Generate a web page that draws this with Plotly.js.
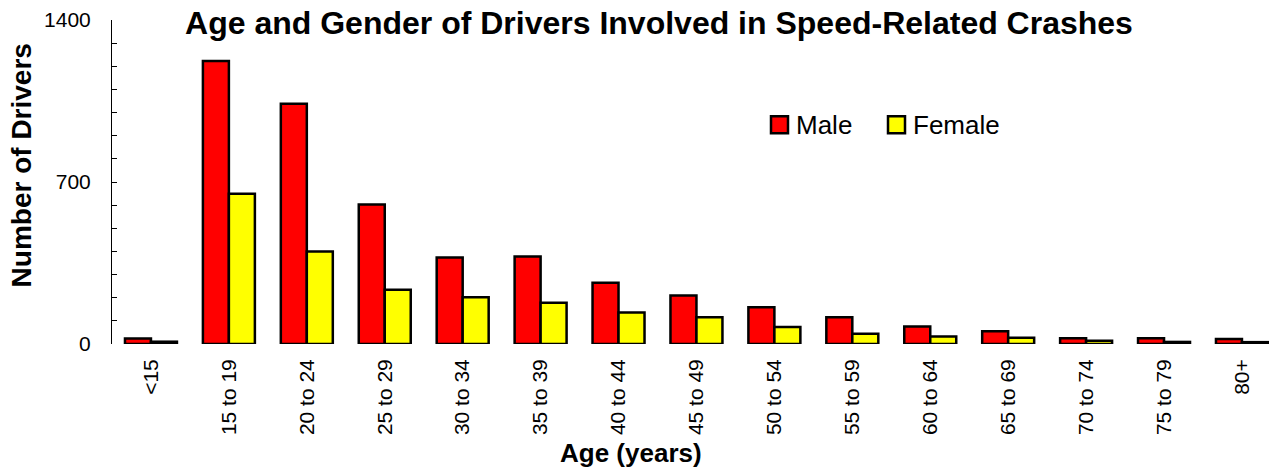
<!DOCTYPE html>
<html>
<head>
<meta charset="utf-8">
<script src="https://cdn.plot.ly/plotly-3.0.1.min.js"></script>
<style>html,body{margin:0;padding:0;background:#fff;}#chart{width:1269px;height:470px;}</style>
</head>
<body>
<div id="chart"></div>
<script>
const ageGroups = ["<15","15 to 19","20 to 24","25 to 29","30 to 34","35 to 39","40 to 44","45 to 49","50 to 54","55 to 59","60 to 64","65 to 69","70 to 74","75 to 79","80+"];
const maleDrivers = [24, 1223, 1038, 603, 374, 378, 265, 210, 159, 116, 76, 55, 25, 25, 22];
const femaleDrivers = [10, 649, 400, 234, 202, 178, 136, 116, 73, 44, 32, 27, 14, 9, 8];
const yTickVals = [0, 700, 1400];
const yTickText = ["0", "700", "1400"];
const seriesNames = ["Male", "Female"];
const seriesColors = ["#FF0000", "#FFFF00"];

const FONT = '"Liberation Sans", Arial, sans-serif';

// pixel -> paper helpers (plot area: x 112..1269, y 19.7..343.5)
const PX = v => (v - 112) / 1157;
const PY = v => (343.5 - v) / 323.8;

const traces = [
  {type:'bar', name:seriesNames[0], x:ageGroups, y:maleDrivers,
   marker:{color:seriesColors[0], line:{color:'#000000', width:2.5}}},
  {type:'bar', name:seriesNames[1], x:ageGroups, y:femaleDrivers,
   marker:{color:seriesColors[1], line:{color:'#000000', width:2.5}}}
];

// custom legend (swatch + label)
const legendSwatchX = [771, 888];
const legendShapes = seriesNames.map((n, i) => ({
  type:'rect', xref:'paper', yref:'paper',
  x0:PX(legendSwatchX[i]), x1:PX(legendSwatchX[i] + 17),
  y0:PY(133), y1:PY(116),
  fillcolor:seriesColors[i], line:{color:'#000', width:2.5}
}));
const legendLabels = seriesNames.map((n, i) => ({
  text:n, showarrow:false, xref:'paper', yref:'paper',
  x:PX(legendSwatchX[i] + 23), y:PY(124.5), xanchor:'left', yanchor:'middle',
  font:{family:FONT, size:26, color:'#000'}
}));

const layout = {
  width:1269, height:470,
  margin:{l:112, r:0, t:20, b:126, pad:0},
  paper_bgcolor:'#fff', plot_bgcolor:'#fff',
  font:{family:FONT, color:'#000', size:21},
  barmode:'group', bargap:0.333, bargroupgap:0,
  title:{text:'<b>Age and Gender of Drivers Involved in Speed-Related Crashes</b>',
    font:{family:FONT, size:32, color:'#000'},
    xref:'container', yref:'container', x:659/1269, xanchor:'center',
    y:1-23/470, yanchor:'middle'},
  xaxis:{type:'category', range:[-0.5, 14.347], showline:false, ticks:'',
    tickangle:-90, tickfont:{family:FONT, size:21, color:'#000'},
    showgrid:false, zeroline:false, ticklabelstandoff:10, fixedrange:true},
  yaxis:{range:[0,1400], tickvals:yTickVals, ticktext:yTickText,
    showline:true, linecolor:'#000', linewidth:1,
    ticks:'inside', ticklen:5, tickcolor:'#000', tickwidth:1,
    minor:{dtick:100, tick0:0, ticks:'inside', ticklen:5, tickcolor:'#000', tickwidth:1},
    tickfont:{family:FONT, size:21, color:'#000'},
    showgrid:false, zeroline:false, ticklabelstandoff:16, fixedrange:true},
  showlegend:false,
  shapes:legendShapes,
  annotations:[
    {text:'<b>Number of Drivers</b>', textangle:-90, showarrow:false,
     xref:'paper', yref:'paper', x:PX(21), y:PY(165),
     xanchor:'center', yanchor:'middle', font:{family:FONT, size:28, color:'#000'}},
    {text:'<b>Age (years)</b>', showarrow:false,
     xref:'paper', yref:'paper', x:PX(631), y:PY(452),
     xanchor:'center', yanchor:'middle', font:{family:FONT, size:26, color:'#000'}}
  ].concat(legendLabels)
};

Plotly.newPlot('chart', traces, layout, {displayModeBar:false, staticPlot:true});
</script>
</body>
</html>
